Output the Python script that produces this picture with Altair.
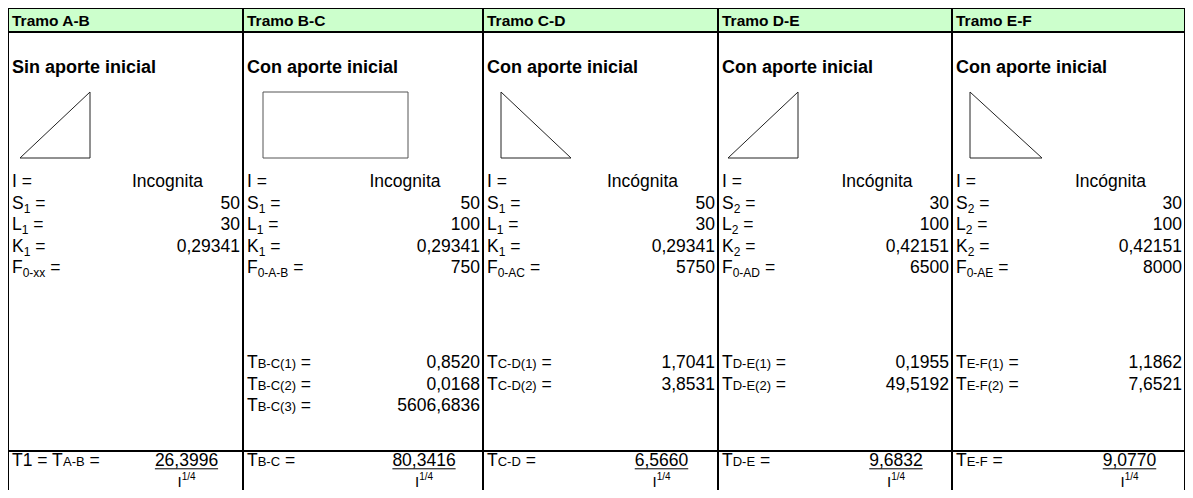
import altair as alt
import pandas as pd

# ---------------- data ----------------
tramos = ["Tramo A-B", "Tramo B-C", "Tramo C-D", "Tramo D-E", "Tramo E-F"]
aportes = ["Sin aporte inicial", "Con aporte inicial", "Con aporte inicial",
           "Con aporte inicial", "Con aporte inicial"]
formas = ["sube", "rect", "baja", "sube", "baja"]
i_vals = ["Incognita", "Incognita", "Incógnita", "Incógnita", "Incógnita"]
sub_idx = ["1", "1", "1", "2", "2"]
s_vals = ["50", "50", "50", "30", "30"]
l_vals = ["30", "100", "30", "100", "100"]
k_vals = ["0,29341", "0,29341", "0,29341", "0,42151", "0,42151"]
f_subs = ["0-xx", "0-A-B", "0-AC", "0-AD", "0-AE"]
f_vals = ["", "750", "5750", "6500", "8000"]
t_subs = [[], ["B-C(1)", "B-C(2)", "B-C(3)"], ["C-D(1)", "C-D(2)"],
          ["D-E(1)", "D-E(2)"], ["E-F(1)", "E-F(2)"]]
t_vals = [[], ["0,8520", "0,0168", "5606,6836"], ["1,7041", "3,8531"],
          ["0,1955", "49,5192"], ["1,1862", "7,6521"]]
tot_heads = ["T1 = T", "T", "T", "T", "T"]
tot_subs = ["A-B", "B-C", "C-D", "D-E", "E-F"]
tot_vals = ["26,3996", "80,3416", "6,5660", "9,6832", "9,0770"]

# ---------------- layout ----------------
W, H = 1177, 482
FONT = "Liberation Sans"
bounds = [0, 235, 475, 710, 944, W]
HEAD_BOT = 24
SEP_Y = 443
ROW = {"head": 12, "aporte": 59, "I": 173, "S": 194.5, "L": 216, "K": 237.5,
       "F": 259, "tot": 452}
POW_BASE = 478.5
T_ROWS = [354, 375.5, 397]
SHAPE_Y = (84, 150)
SHAPE_X = [(12, 82), (20, 165), (18, 88), (10, 80), (18, 90)]
NORMAL = 17.5
SIZES = {"n": NORMAL, "sub": 12, "sc": 13, "sup": 11}
DY = {"n": 0, "sub": 4, "sc": 0, "sup": -8}

WID = {' ': 278, '=': 584, '-': 333, '(': 333, ')': 333, ',': 278, '/': 278,
       'A': 667, 'B': 667, 'C': 722, 'D': 722, 'E': 667, 'F': 611, 'I': 278,
       'K': 667, 'L': 556, 'S': 667, 'T': 611, 'x': 500}


def tw(s, size):
    return sum(WID.get(c, 556) for c in s) * size / 1000.0


def base(yc, size=NORMAL):
    return yc + 0.36 * size


texts = []


def add(x, y, t, s, layer):
    texts.append({"x": x, "y": y, "t": t, "s": s, "layer": layer})


def label(x, yc, pieces):
    cur = x
    b = base(yc)
    for txt, kind in pieces:
        size = SIZES[kind]
        if txt.startswith(" "):
            cur += tw(" ", size)
            txt = txt.lstrip()
        add(cur, b + DY[kind], txt, size, "left")
        cur += tw(txt, size)


lines = []


def seg(x, x2, y, y2, w, c):
    lines.append({"x": x, "x2": x2, "y": y, "y2": y2, "w": w, "c": c})


for i in range(5):
    x0, x1 = bounds[i], bounds[i + 1]
    lx, rx = x0 + 4, x1 - 3
    mid = (x0 + x1) / 2
    add(lx, base(ROW["head"], 15.5), tramos[i], 15.5, "bold")
    add(lx, base(ROW["aporte"], 18), aportes[i], 18, "bold")

    # shape
    sx0, sx1 = x0 + SHAPE_X[i][0], x0 + SHAPE_X[i][1]
    ty, by = SHAPE_Y
    sc = "#222222"
    if formas[i] == "rect":
        rc = "#555555"
        seg(sx0, sx1, ty, ty, 1, rc)
        seg(sx0, sx1, by, by, 1, rc)
        seg(sx0, sx0, ty, by, 1, rc)
        seg(sx1, sx1, ty, by, 1, rc)
    elif formas[i] == "sube":
        seg(sx0, sx1, by, ty, 1, sc)
        seg(sx1, sx1, ty, by, 1, sc)
        seg(sx0, sx1, by, by, 1, sc)
    else:
        seg(sx0, sx1, ty, by, 1, sc)
        seg(sx0, sx0, ty, by, 1, sc)
        seg(sx0, sx1, by, by, 1, sc)

    label(lx, ROW["I"], [("I =", "n")])
    add(mid + 42, base(ROW["I"]), i_vals[i], NORMAL, "center")
    label(lx, ROW["S"], [("S", "n"), (sub_idx[i], "sub"), (" =", "n")])
    add(rx, base(ROW["S"]), s_vals[i], NORMAL, "right")
    label(lx, ROW["L"], [("L", "n"), (sub_idx[i], "sub"), (" =", "n")])
    add(rx, base(ROW["L"]), l_vals[i], NORMAL, "right")
    label(lx, ROW["K"], [("K", "n"), (sub_idx[i], "sub"), (" =", "n")])
    add(rx, base(ROW["K"]), k_vals[i], NORMAL, "right")
    label(lx, ROW["F"], [("F", "n"), (f_subs[i], "sub"), (" =", "n")])
    if f_vals[i]:
        add(rx, base(ROW["F"]), f_vals[i], NORMAL, "right")

    for j, (ts, tv) in enumerate(zip(t_subs[i], t_vals[i])):
        label(lx, T_ROWS[j], [("T", "n"), (ts, "sc"), (" =", "n")])
        add(rx, base(T_ROWS[j]), tv, NORMAL, "right")

    # totals
    label(lx, ROW["tot"], [(tot_heads[i], "n"), (tot_subs[i], "sc"), (" =", "n")])
    vc = mid + 61
    add(vc, base(ROW["tot"]), tot_vals[i], NORMAL, "center")
    uw = tw(tot_vals[i], NORMAL)
    ub = base(ROW["tot"]) + 2.5
    seg(vc - uw / 2, vc + uw / 2, ub, ub, 1, "#000000")
    pw = tw("I", 15) + tw("1/4", 10)
    px = vc - pw / 2
    add(px, POW_BASE, "I", 15, "left")
    add(px + tw("I", 15), POW_BASE - 6.5, "1/4", 10, "left")

# grid lines
for bx in bounds:
    seg(bx, bx, 0, H, 2, "#000000")
seg(0, W, 0, 0, 2, "#000000")
seg(0, W, HEAD_BOT, HEAD_BOT, 2, "#000000")
seg(0, W, SEP_Y, SEP_Y, 2, "#000000")

text_df = pd.DataFrame(texts)
line_df = pd.DataFrame(lines)
band_df = pd.DataFrame([{"x": 0, "x2": W, "y": 0, "y2": HEAD_BOT}])

xs = alt.Scale(domain=[0, W], range=[0, W], nice=False, zero=False)
ys = alt.Scale(domain=[0, H], range=[0, H], nice=False, zero=False)

band = alt.Chart(band_df).mark_rect(color="#CCFFCC").encode(
    x=alt.X("x:Q", scale=xs, axis=None), x2="x2:Q",
    y=alt.Y("y:Q", scale=ys, axis=None), y2="y2:Q")

rules = alt.Chart(line_df).mark_rule().encode(
    x=alt.X("x:Q", scale=xs, axis=None), x2="x2:Q",
    y=alt.Y("y:Q", scale=ys, axis=None), y2="y2:Q",
    size=alt.Size("w:Q", scale=None, legend=None),
    color=alt.Color("c:N", scale=None, legend=None))


def text_layer(layer, align, weight):
    df = text_df[text_df["layer"] == layer]
    return alt.Chart(df).mark_text(
        align=align, baseline="alphabetic", font=FONT, fontWeight=weight,
        color="#000000").encode(
        x=alt.X("x:Q", scale=xs, axis=None),
        y=alt.Y("y:Q", scale=ys, axis=None),
        text="t:N",
        size=alt.Size("s:Q", scale=None, legend=None))


chart = alt.layer(
    band,
    text_layer("left", "left", "normal"),
    text_layer("right", "right", "normal"),
    text_layer("center", "center", "normal"),
    text_layer("bold", "left", "bold"),
    rules,
).properties(width=W, height=H, padding=0, autosize="none").configure_view(stroke=None)

chart.save("out.html", embed_options={"renderer": "svg", "actions": False})
